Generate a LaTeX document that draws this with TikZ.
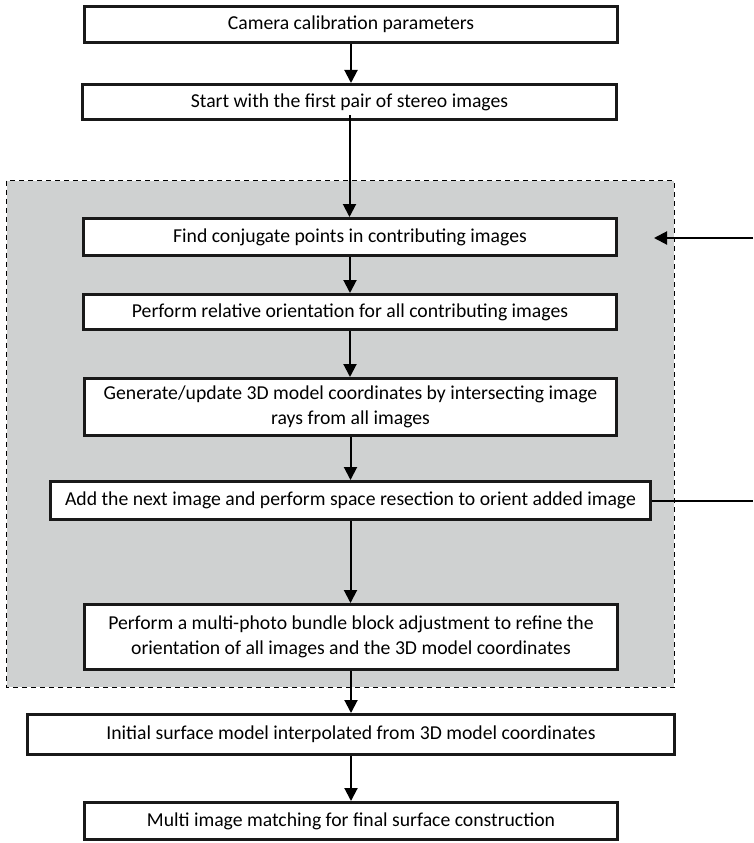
\documentclass[tikz,border=0pt]{standalone}
\usepackage{fontspec}
\setmainfont{Carlito}
\usetikzlibrary{arrows.meta,positioning}
\definecolor{grayfill}{RGB}{207,209,209}
\tikzset{
  box/.style={draw=black!90, line width=3pt, fill=white, align=center, inner sep=2pt,
    font=\fontsize{19.7}{24.5}\selectfont},
  flow/.style={line width=2pt, -{Triangle[length=13pt,width=13pt]}},
  plain/.style={line width=2pt},
  region/.style={draw=black, dashed, dash pattern=on 5pt off 4pt, line width=1.4pt, fill=grayfill}
}
\begin{document}
\begin{tikzpicture}[x=1pt,y=-1pt]
\useasboundingbox (0,0) rectangle (753,843);
% grey region
\draw[region] (6.7,180.7) rectangle (674.3,687.3);
% boxes
\node[box, minimum width=533pt, minimum height=36pt] (cam) at (351,24.5) {Camera calibration parameters};
\node[box, minimum width=534pt, minimum height=35pt] (start) at (349.5,102) {Start with the first pair of stereo images};
\node[box, minimum width=533pt, minimum height=37pt] (find) at (350,237) {Find conjugate points in contributing images};
\node[box, minimum width=533pt, minimum height=35pt] (rel) at (350,312) {Perform relative orientation for all contributing images};
\node[box, minimum width=532pt, minimum height=57pt] (gen) at (350.5,407) {Generate/update 3D model coordinates by intersecting image\\rays from all images};
\node[box, minimum width=600pt, minimum height=38pt] (add) at (350.5,500.5) {Add the next image and perform space resection to orient added image};
\node[box, minimum width=533pt, minimum height=65pt] (bun) at (351,637) {Perform a multi-photo bundle block adjustment to refine the\\orientation of all images and the 3D model coordinates};
\node[box, minimum width=647pt, minimum height=40pt] (ini) at (351,734.5) {Initial surface model interpolated from 3D model coordinates};
\node[box, minimum width=533pt, minimum height=37pt] (mul) at (351,821) {Multi image matching for final surface construction};
% connectors
\draw[flow] (cam.south) -- (cam.south |- start.north);
\draw[flow] ([yshift=6pt]start.south) -- (start.south |- find.north);
\draw[flow] (find.south) -- (find.south |- rel.north);
\draw[flow] (rel.south) -- (rel.south |- gen.north);
\draw[flow] (gen.south) -- (gen.south |- add.north);
\draw[flow] (add.south) -- (add.south |- bun.north);
\draw[flow] (bun.south) -- (bun.south |- ini.north);
\draw[flow] (ini.south) -- (ini.south |- mul.north);
% feedback
\coordinate (fbin) at (753,238);
\coordinate (fbtip) at (654,238);
\coordinate (fbout) at (753,500.5);
\draw[flow] (fbin) -- (fbtip);
\draw[plain] (add.east) -- (fbout);
\end{tikzpicture}
\end{document}
